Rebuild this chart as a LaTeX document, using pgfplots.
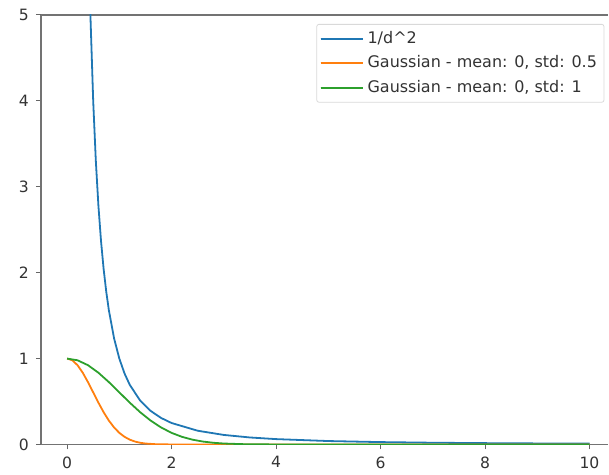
\documentclass[border=0pt]{standalone}
\usepackage{fontspec}
\setmainfont{DejaVu Sans}
\usepackage{pgfplots}
\pgfplotsset{compat=1.18}

\definecolor{mplblue}{HTML}{1F77B4}
\definecolor{mplorange}{HTML}{FF7F0E}
\definecolor{mplgreen}{HTML}{2CA02C}

\begin{document}
\begin{tikzpicture}
\begin{axis}[
    scale only axis,
    width=284pt, height=215pt,
    xmin=-0.5, xmax=10.36,
    ymin=0, ymax=5,
    xtick={0,2,4,6,8,10},
    ytick={0,1,2,3,4,5},
    axis x line=box, axis y line=left,
    xtick pos=bottom,
    axis line style={black!55, line width=0.7pt, -},
    tick align=outside,
    major tick length=2.5pt,
    every tick/.style={black!60, line width=0.5pt},
    tick label style={font=\fontsize{7.8}{9}\selectfont, text=black!80},
    /pgf/number format/assume math mode=true,
    legend style={at={(0.993,0.979)}, anchor=north east, draw=black!15,
        rounded corners=1pt, font=\fontsize{8}{9.4}\selectfont, text=black!80,
        row sep=0.6pt, inner sep=1.5pt},
    legend cell align=left,
    legend image code/.code={%
        \draw[#1, line width=0.9pt] (0pt,0pt) -- (17.5pt,0pt);
        \path (0pt,0pt) -- (21pt,0pt);},
]
\addplot[mplblue, line width=0.9pt] coordinates {
    (0.40,6.25) (0.45,4.938) (0.50,4.0) (0.55,3.306) (0.60,2.778)
    (0.65,2.367) (0.70,2.041) (0.75,1.778) (0.80,1.5625) (0.90,1.2346)
    (1.00,1.0) (1.10,0.8264) (1.20,0.6944) (1.40,0.5102) (1.60,0.3906)
    (1.80,0.3086) (2.00,0.25) (2.50,0.16) (3.00,0.1111) (3.50,0.0816)
    (4.00,0.0625) (5.00,0.04) (6.00,0.0278) (7.00,0.0204) (8.00,0.0156)
    (9.00,0.0123) (10.00,0.01)
};
\addlegendentry{1/d\^{}2}
\addplot[mplorange, line width=0.9pt] coordinates {
    (0,1) (0.1,0.9802) (0.2,0.9231) (0.3,0.8353) (0.4,0.7261) (0.5,0.6065)
    (0.6,0.4868) (0.7,0.3753) (0.8,0.2780) (0.9,0.1979) (1.0,0.1353)
    (1.1,0.0889) (1.2,0.0561) (1.3,0.0340) (1.4,0.0198) (1.5,0.0111)
    (1.7,0.0031) (2.0,0.0003) (3.0,0) (10.0,0)
};
\addlegendentry{Gaussian - mean: 0, std: 0.5}
\addplot[mplgreen, line width=0.9pt] coordinates {
    (0,1) (0.2,0.9802) (0.4,0.9231) (0.6,0.8353) (0.8,0.7261) (1.0,0.6065)
    (1.2,0.4868) (1.4,0.3753) (1.6,0.2780) (1.8,0.1979) (2.0,0.1353)
    (2.2,0.0889) (2.4,0.0561) (2.6,0.0340) (2.8,0.0198) (3.0,0.0111)
    (3.4,0.0031) (4.0,0.0003) (5.0,0) (10.0,0)
};
\addlegendentry{Gaussian - mean: 0, std: 1}
\end{axis}
\path ([shift={(-20.5pt,-13.5pt)}]current axis.south west)
      ([shift={(0pt,7.5pt)}]current axis.north east);
\end{tikzpicture}
\end{document}
